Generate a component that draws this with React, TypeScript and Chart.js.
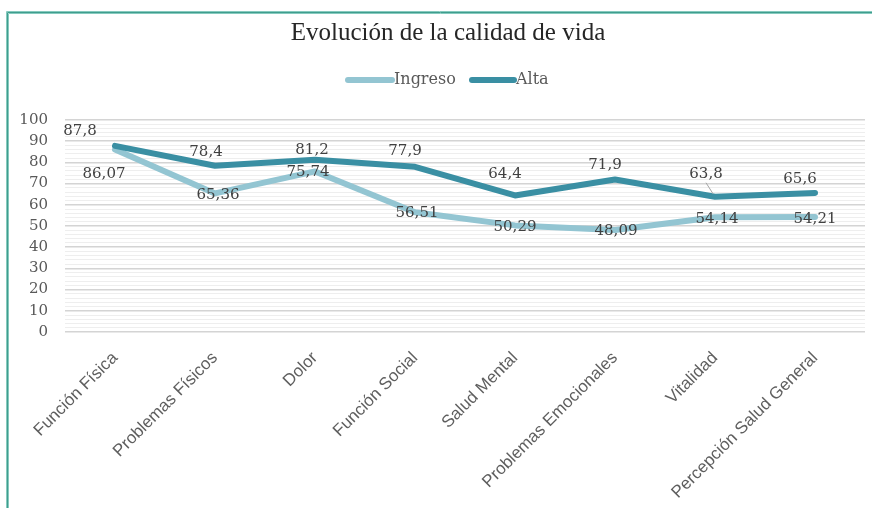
import React, { useEffect, useRef } from "react";
import { Chart, registerables } from "chart.js";

Chart.register(...registerables);

const titleText = "Evolución de la calidad de vida";
const categories = [
  "Función Física",
  "Problemas Físicos",
  "Dolor",
  "Función Social",
  "Salud Mental",
  "Problemas Emocionales",
  "Vitalidad",
  "Percepción Salud General",
];
const seriesNames = ["Ingreso", "Alta"];
const ingresoValues = [86.07, 65.36, 75.74, 56.51, 50.29, 48.09, 54.14, 54.21];
const altaValues = [87.8, 78.4, 81.2, 77.9, 64.4, 71.9, 63.8, 65.6];
const yTickValues = [0, 10, 20, 30, 40, 50, 60, 70, 80, 90, 100];

const COLOR_INGRESO = "#93c5d2";
const COLOR_ALTA = "#3a8fa3";

// label offsets (px) relative to the point, per dataset
const labelOffsets: Record<number, [number, number][]> = {
  0: [[-11, 25], [3, 2], [-7, 1], [2, 1], [0, 2], [1, 1], [2, 2], [0, 2]],
  1: [[-35, -15], [-9, -14], [-3, -10], [-10, -16], [-10, -21], [-10, -14], [-9, -23], [-15, -14]],
};
const leaderLines: Record<number, number[]> = { 1: [6] };

const fmt = (v: number) => String(v).replace(".", ",");

const decorPlugin = {
  id: "decor",
  beforeDraw(chart: any) {
    const ctx = chart.ctx;
    ctx.save();
    ctx.fillStyle = "#ffffff";
    ctx.fillRect(0, 0, chart.width, chart.height);
    // frame (double teal line)
    ctx.lineWidth = 1;
    const lines: [number, string][] = [
      [6.5, "#86cabe"],
      [7.5, "#3f9d8e"],
      [8.5, "#86cabe"],
    ];
    for (const [o, c] of lines) {
      ctx.strokeStyle = c;
      ctx.beginPath();
      ctx.moveTo(o, chart.height + 5);
      ctx.lineTo(o, o + 5);
      ctx.lineTo(chart.width + 5, o + 5);
      ctx.stroke();
    }
    // title
    ctx.fillStyle = "#262626";
    ctx.font = "25px 'Liberation Serif'";
    ctx.textAlign = "center";
    ctx.textBaseline = "middle";
    ctx.fillText(titleText, 448, 33);
    // legend
    const items = [
      { name: seriesNames[0], color: COLOR_INGRESO, x0: 348, x1: 392 },
      { name: seriesNames[1], color: COLOR_ALTA, x0: 472, x1: 514 },
    ];
    ctx.font = "16px 'DejaVu Serif'";
    ctx.textAlign = "left";
    for (const it of items) {
      ctx.strokeStyle = it.color;
      ctx.lineWidth = 6;
      ctx.lineCap = "round";
      ctx.beginPath();
      ctx.moveTo(it.x0, 80);
      ctx.lineTo(it.x1, 80);
      ctx.stroke();
      ctx.fillStyle = "#595959";
      ctx.fillText(it.name, it.x1 + 2, 80);
    }
    ctx.restore();
  },
  afterDatasetsDraw(chart: any) {
    const ctx = chart.ctx;
    ctx.save();
    ctx.font = "15px 'DejaVu Serif'";
    ctx.textAlign = "center";
    ctx.textBaseline = "middle";
    chart.data.datasets.forEach((ds: any, di: number) => {
      const meta = chart.getDatasetMeta(di);
      meta.data.forEach((pt: any, i: number) => {
        const [dx, dy] = labelOffsets[di][i];
        const lx = pt.x + dx;
        const ly = pt.y + dy;
        if ((leaderLines[di] || []).includes(i)) {
          ctx.strokeStyle = "#a6a6a6";
          ctx.lineWidth = 1;
          ctx.beginPath();
          ctx.moveTo(lx, ly + 9);
          ctx.lineTo(pt.x - 2, pt.y - 3);
          ctx.stroke();
        }
        ctx.fillStyle = "#404040";
        ctx.fillText(fmt(ds.data[i]), lx, ly);
      });
    });
    ctx.restore();
  },
};

export default function App() {
  const ref = useRef<HTMLCanvasElement | null>(null);
  useEffect(() => {
    if (!ref.current) return;
    const chart = new Chart(ref.current, {
      type: "line",
      data: {
        labels: categories,
        datasets: [
          {
            label: seriesNames[0],
            data: ingresoValues,
            borderColor: COLOR_INGRESO,
            backgroundColor: COLOR_INGRESO,
            borderWidth: 6,
            pointRadius: 0,
            tension: 0,
            borderJoinStyle: "round",
            borderCapStyle: "round",
            order: 1,
          },
          {
            label: seriesNames[1],
            data: altaValues,
            borderColor: COLOR_ALTA,
            backgroundColor: COLOR_ALTA,
            borderWidth: 6,
            pointRadius: 0,
            tension: 0,
            borderJoinStyle: "round",
            borderCapStyle: "round",
            order: 0,
          },
        ],
      },
      options: {
        responsive: false,
        animation: false,
        layout: { padding: { left: 0, right: 7, top: 120, bottom: 0 } },
        plugins: {
          legend: { display: false },
          title: { display: false },
          tooltip: { enabled: false },
        },
        scales: {
          x: {
            offset: true,
            grid: { display: false, drawTicks: false },
            border: { display: false },
            ticks: {
              autoSkip: false,
              maxRotation: 45,
              minRotation: 45,
              padding: 16,
              color: "#5f5f5f",
              font: { family: "'Liberation Sans'", size: 17 },
            },
            afterFit(scale: any) {
              scale.height = 176;
            },
          },
          y: {
            min: 0,
            max: 100,
            grid: {
              drawTicks: false,
              color: (c: any) =>
                yTickValues.includes(c.tick?.value) ? "#d4d4d4" : "#eeeeee",
              lineWidth: (c: any) => (yTickValues.includes(c.tick?.value) ? 1.5 : 1),
            },
            border: { display: false },
            ticks: {
              stepSize: 2,
              autoSkip: false,
              padding: 17,
              color: "#595959",
              font: { family: "'DejaVu Serif'", size: 15 },
              callback: (v: any) => (yTickValues.includes(Number(v)) ? String(v) : ""),
            },
            afterFit(scale: any) {
              scale.width = 65;
            },
          },
        },
      },
      plugins: [decorPlugin],
    } as any);
    return () => chart.destroy();
  }, []);
  return (
    <div style={{ position: "absolute", left: 0, top: 0, width: 872, height: 508 }}>
      <canvas ref={ref} width={872} height={508} style={{ display: "block" }} />
    </div>
  );
}
